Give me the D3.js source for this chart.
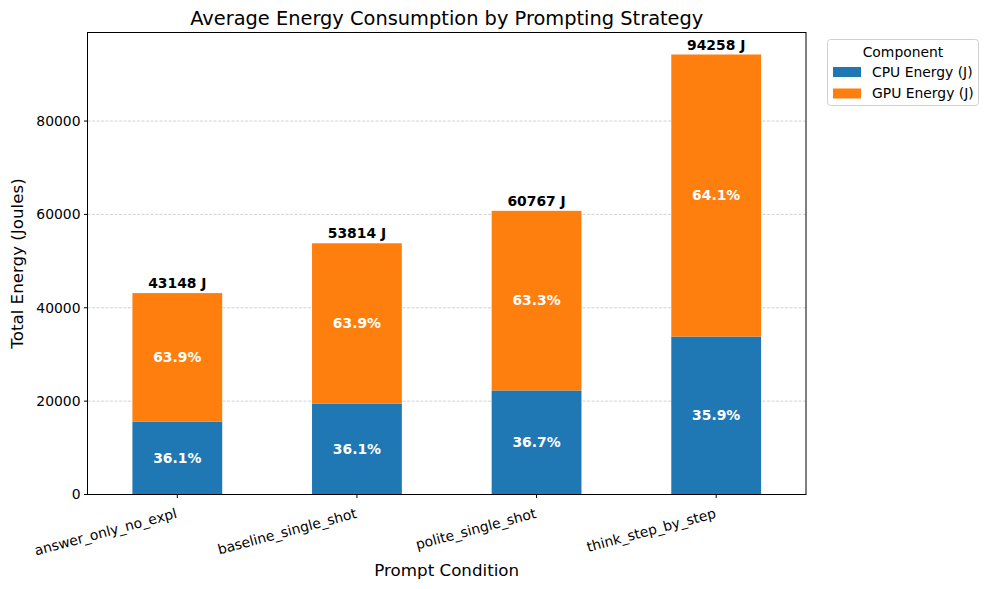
<!DOCTYPE html>
<html><head><meta charset="utf-8">
<script src="https://cdn.jsdelivr.net/npm/d3@7"></script>
<style>body{margin:0;background:#fff;} text{font-family:"DejaVu Sans",sans-serif;}</style>
</head><body>
<svg id="c" width="988" height="589"></svg>
<script>
const categories = ["answer_only_no_expl","baseline_single_shot","polite_single_shot","think_step_by_step"];
const cpuEnergy = [15576, 19427, 22301, 33839];
const gpuEnergy = [27572, 34387, 38466, 60419];
const totals = [43148, 53814, 60767, 94258];
const cpuPct = ["36.1%","36.1%","36.7%","35.9%"];
const gpuPct = ["63.9%","63.9%","63.3%","64.1%"];
const yTicks = [0,20000,40000,60000,80000];
const seriesNames = ["CPU Energy (J)","GPU Energy (J)"];
const colors = ["#1f77b4","#ff7f0e"];

const svg = d3.select("#c");
const m = {l:87.5, r:806, t:32.5, b:494.5};
const x = d3.scaleBand().domain(categories).range([m.l, m.r]).paddingInner(0.5).paddingOuter(0.25);
const y = d3.scaleLinear().domain([0, d3.max(totals)*1.05]).range([m.b, m.t]);
const fs = "13.9px";

// grid
svg.append("g").selectAll("line").data(yTicks.slice(1)).join("line")
  .attr("x1", m.l).attr("x2", m.r).attr("y1", d=>y(d)).attr("y2", d=>y(d))
  .attr("stroke","#b0b0b0").attr("stroke-opacity",0.7).attr("stroke-width",0.8).attr("stroke-dasharray","3,1.5");

const data = categories.map((c,i)=>({c, cpu:cpuEnergy[i], gpu:gpuEnergy[i], tot:totals[i], cp:cpuPct[i], gp:gpuPct[i]}));
const bw = x.bandwidth();
const g = svg.append("g");
data.forEach(d=>{
  g.append("rect").attr("x", x(d.c)).attr("width", bw).attr("y", y(d.cpu)).attr("height", y(0)-y(d.cpu)).attr("fill", colors[0]);
  g.append("rect").attr("x", x(d.c)).attr("width", bw).attr("y", y(d.cpu+d.gpu)).attr("height", y(d.cpu)-y(d.cpu+d.gpu)).attr("fill", colors[1]);
  const cx = x(d.c)+bw/2;
  g.append("text").attr("x", cx).attr("y", y(d.cpu/2)).attr("dy","0.35em").attr("text-anchor","middle")
    .attr("fill","#fff").attr("font-weight","bold").attr("font-size",fs).text(d.cp);
  g.append("text").attr("x", cx).attr("y", y(d.cpu+d.gpu/2)).attr("dy","0.35em").attr("text-anchor","middle")
    .attr("fill","#fff").attr("font-weight","bold").attr("font-size",fs).text(d.gp);
  g.append("text").attr("x", cx).attr("y", y(d.tot)-5).attr("text-anchor","middle")
    .attr("fill","#000").attr("font-weight","bold").attr("font-size",fs).text(d.tot+" J");
});

// frame
svg.append("rect").attr("x", m.l).attr("y", m.t).attr("width", m.r-m.l).attr("height", m.b-m.t)
  .attr("fill","none").attr("stroke","#000").attr("stroke-width",1);

// y axis
const ya = svg.append("g");
yTicks.forEach(t=>{
  ya.append("line").attr("x1", m.l-3.5).attr("x2", m.l).attr("y1", y(t)).attr("y2", y(t)).attr("stroke","#000");
  ya.append("text").attr("x", m.l-7).attr("y", y(t)).attr("dy","0.35em").attr("text-anchor","end")
    .attr("font-size",fs).text(t);
});
// x axis
const xa = svg.append("g");
categories.forEach(c=>{
  const cx = x(c)+bw/2;
  xa.append("line").attr("x1", cx).attr("x2", cx).attr("y1", m.b).attr("y2", m.b+3.5).attr("stroke","#000");
  xa.append("text").attr("transform", `translate(${cx+0.5},${m.b+23}) rotate(-15)`).attr("text-anchor","end")
    .attr("font-size",fs).text(c);
});

svg.append("text").attr("x", (m.l+m.r)/2).attr("y", 576).attr("text-anchor","middle").attr("font-size","16.7px").text("Prompt Condition");
svg.append("text").attr("transform", `translate(23,${(m.t+m.b)/2}) rotate(-90)`).attr("text-anchor","middle").attr("font-size","16.7px").text("Total Energy (Joules)");
svg.append("text").attr("x", (m.l+m.r)/2).attr("y", 25).attr("text-anchor","middle").attr("font-size","19.4px").text("Average Energy Consumption by Prompting Strategy");

// legend
const lg = svg.append("g");
lg.append("rect").attr("x", 827.5).attr("y", 39.5).attr("width", 151).attr("height", 66).attr("rx", 3)
  .attr("fill","#fff").attr("stroke","#d0d0d0");
lg.append("text").attr("x", 903).attr("y", 57).attr("text-anchor","middle").attr("font-size",fs).text("Component");
seriesNames.forEach((s,i)=>{
  const yy = 72 + i*21.5;
  lg.append("rect").attr("x", 833).attr("y", yy-5).attr("width", 28).attr("height", 10).attr("fill", colors[i]);
  lg.append("text").attr("x", 872).attr("y", yy).attr("dy","0.35em").attr("font-size",fs).text(s);
});
</script>
</body></html>
